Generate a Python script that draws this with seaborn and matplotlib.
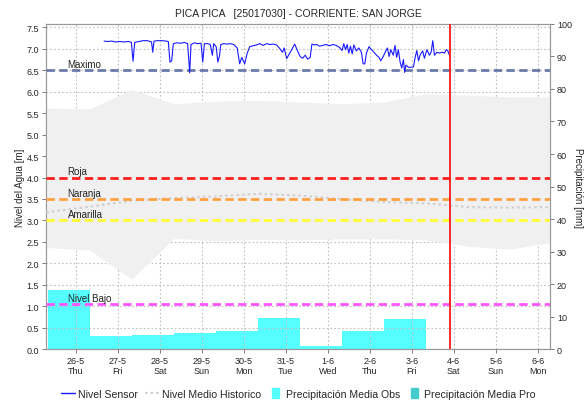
import numpy as np
import pandas as pd
import matplotlib
matplotlib.use("Agg")
import matplotlib.pyplot as plt
from matplotlib.ticker import MultipleLocator
from matplotlib.lines import Line2D
from matplotlib.patches import Patch, Rectangle
from matplotlib.legend_handler import HandlerPatch
import seaborn as sns

# ---- data ----
day_labels = ["26-5\nThu", "27-5\nFri", "28-5\nSat", "29-5\nSun", "30-5\nMon", "31-5\nTue",
              "1-6\nWed", "2-6\nThu", "3-6\nFri", "4-6\nSat", "5-6\nSun", "6-6\nMon"]

# daily precipitation [mm], bars start at these positions (days)
precip_start = [-0.67, 0.33, 1.33, 2.33, 3.33, 4.33, 5.33, 6.33, 7.33]
precip_obs = [18.2, 3.9, 4.4, 5.0, 5.6, 9.6, 1.0, 5.6, 9.2]

# historical band and mean [m]
hist_x = [-0.71, 0.33, 1.33, 2.33, 3.33, 4.33, 5.33, 6.33, 7.33, 8.33, 9.33, 10.33, 11.29]
hist_upper = [5.62, 5.60, 6.05, 5.72, 5.78, 5.80, 5.76, 5.72, 5.76, 5.95, 5.92, 5.88, 5.88]
hist_lower = [2.37, 2.31, 1.63, 2.58, 2.53, 2.56, 2.55, 2.57, 2.57, 2.55, 2.40, 2.33, 2.48]
hist_mean = [3.19, 3.32, 3.46, 3.52, 3.56, 3.62, 3.58, 3.50, 3.43, 3.40, 3.31, 3.30, 3.31]

# sensor level [m]
sensor_t = [0.67, 0.75, 0.85, 0.95, 1.05, 1.15, 1.25, 1.32, 1.36, 1.40, 1.50, 1.60, 1.70, 1.80,
            1.83, 1.86, 1.95, 2.05, 2.15, 2.20, 2.24, 2.28, 2.32, 2.40, 2.50, 2.58, 2.66, 2.71,
            2.74, 2.82, 2.90, 2.98, 3.02, 3.06, 3.14, 3.20, 3.25, 3.28, 3.34, 3.38, 3.42, 3.45,
            3.52, 3.60, 3.68, 3.76, 3.84, 3.90, 3.95, 4.02, 4.08, 4.14, 4.22, 4.30, 4.38, 4.46,
            4.54, 4.62, 4.70, 4.78, 4.86, 4.92, 4.96, 5.02, 5.08, 5.14, 5.21, 5.28, 5.34, 5.40,
            5.46, 5.52, 5.58, 5.62, 5.68, 5.74, 5.80, 5.88, 5.96, 6.04, 6.12, 6.20, 6.28, 6.34,
            6.38, 6.42, 6.46, 6.50, 6.54, 6.58, 6.62, 6.68, 6.74, 6.80, 6.84, 6.88, 6.92, 6.98,
            7.04, 7.10, 7.16, 7.22, 7.26, 7.32, 7.38, 7.42, 7.46, 7.50, 7.56, 7.60, 7.64, 7.68,
            7.72, 7.76, 7.80, 7.83, 7.86, 7.92, 7.98, 8.04, 8.08, 8.12, 8.16, 8.20, 8.26, 8.30,
            8.36, 8.42, 8.46, 8.50, 8.54, 8.60, 8.66, 8.72, 8.78, 8.82, 8.86, 8.90]
sensor_v = [7.18, 7.17, 7.18, 7.16, 7.17, 7.16, 7.17, 7.15, 6.71, 7.15, 7.17, 7.19, 7.19, 7.16,
            6.92, 7.18, 7.19, 7.19, 7.18, 7.17, 6.69, 6.72, 7.12, 7.14, 7.13, 7.15, 7.12, 6.44,
            7.10, 7.14, 7.12, 7.13, 6.69, 7.12, 7.12, 7.10, 6.85, 7.12, 7.05, 6.69, 6.84, 7.10,
            7.12, 7.11, 7.12, 7.10, 7.02, 6.65, 6.80, 6.65, 6.90, 7.05, 7.07, 7.09, 7.12, 7.08,
            7.12, 7.10, 7.11, 7.09, 7.00, 6.92, 7.02, 6.77, 6.88, 6.98, 7.11, 6.95, 6.82, 6.78,
            6.85, 6.76, 6.80, 7.11, 7.09, 7.10, 7.06, 7.08, 7.10, 7.07, 7.10, 7.08, 7.03, 6.96,
            7.12, 6.98, 7.10, 6.90, 7.06, 6.88, 7.09, 6.95, 7.02, 6.92, 6.65, 6.65, 6.90, 7.05,
            6.98, 6.92, 6.85, 6.80, 6.72, 6.82, 6.95, 7.02, 6.82, 6.98, 6.85, 7.08, 6.80, 6.98,
            6.70, 6.55, 6.75, 6.45, 6.62, 6.57, 6.57, 6.58, 6.80, 6.96, 6.72, 6.86, 6.95, 6.78,
            6.98, 6.85, 6.92, 7.19, 6.85, 6.92, 6.90, 6.92, 6.90, 6.98, 6.95, 6.84]

levels = {"Maximo": (6.5, "#6b7aa8"), "Roja": (4.0, "#ff1f1f"), "Naranja": (3.5, "#ffa040"),
          "Amarilla": (3.0, "#ffff33"), "Nivel Bajo": (1.05, "#ff55ff")}
now_day = 8.905

# ---- plot ----
sns.set_style("white")
plt.rcParams["font.family"] = ["Liberation Sans", "DejaVu Sans"]
fs = 7

fig = plt.figure(figsize=(5.85, 4.02), dpi=100)
ax = fig.add_axes([0.0786, 0.129, 0.8614, 0.809])
ax2 = ax.twinx()
ax.set_zorder(ax2.get_zorder() + 1)
ax.patch.set_visible(False)
ax2.set_facecolor("white")

# precipitation bars (right axis)
ax2.bar(precip_start, precip_obs, width=1.0, align="edge", color="#55ffff", linewidth=0)
ax2.set_ylim(0, 100)
ax2.yaxis.set_major_locator(MultipleLocator(10))
ax2.set_ylabel("Precipitación [mm]", fontsize=fs, rotation=270, labelpad=8)

# historic band
ax.fill_between(hist_x, hist_lower, hist_upper, color="#f0f0f0", linewidth=0, zorder=1)
hist = pd.DataFrame({"x": hist_x, "y": hist_mean})
sns.lineplot(data=hist, x="x", y="y", ax=ax, color="#cfcfcf", lw=1.5,
             linestyle=(0, (1.2, 1.5)), zorder=3)

for name, (val, col) in levels.items():
    ax.axhline(val, color=col, lw=2, linestyle=(0, (3, 1.6)), zorder=4)
    ax.text(-0.2, val + 0.03, name, fontsize=fs, color="#222222", va="bottom", zorder=6)

sens = pd.DataFrame({"t": sensor_t, "v": sensor_v})
sns.lineplot(data=sens, x="t", y="v", ax=ax, color="#1a1aff", lw=0.8, zorder=5)

ax.axvline(now_day, color="#ff1a1a", lw=1.3, zorder=6)

ax.set_xlim(-0.714, 11.29)
ax.set_ylim(0, 7.58)
ax.yaxis.set_major_locator(MultipleLocator(0.5))
ax.set_xticks(range(len(day_labels)))
ax.set_xticklabels(day_labels)
ax.xaxis.set_minor_locator(MultipleLocator(1 / 12))
ax.tick_params(axis="x", which="minor", length=2, direction="in", color="#666666")
ax.grid(True, which="major", color="#c0c0c0", linestyle=(0, (1.5, 2)), lw=0.8)
ax.set_axisbelow(True)
ax.set_xlabel("")
ax.set_ylabel("Nivel del Agua [m]", fontsize=fs, labelpad=1)

for a in (ax, ax2):
    a.tick_params(axis="both", which="major", labelsize=fs - 0.5, length=3, width=0.6,
                  color="#666666", pad=2, left=(a is ax), right=(a is ax2), bottom=(a is ax))
    for s in a.spines.values():
        s.set_color("#999999")
        s.set_linewidth(0.8)

ax.set_title("PICA PICA   [25017030] - CORRIENTE: SAN JORGE", fontsize=fs + 0.5, pad=6)


def narrow_box(legend, orig_handle, xdescent, ydescent, width, height, fontsize):
    w = width * 0.5
    return Rectangle((-xdescent + (width - w) / 2, -ydescent - height * 0.15), w, height * 1.3)


handles = [Line2D([0], [0], color="#1a1aff", lw=1),
           Line2D([0], [0], color="#cfcfcf", lw=1.5, linestyle=(0, (1.2, 1.5))),
           Patch(color="#55ffff"), Patch(color="#44cccc")]
labels = ["Nivel Sensor", "Nivel Medio Historico", "Precipitación Media Obs", "Precipitación Media Pro"]
fig.legend(handles, labels, loc="lower center", bbox_to_anchor=(0.51, -0.018), ncol=4,
           frameon=False, fontsize=7.6, handlelength=1.3, handletextpad=0.3, columnspacing=0.7,
           handler_map={Patch: HandlerPatch(patch_func=narrow_box)})

fig.savefig("out.png", dpi=100)
